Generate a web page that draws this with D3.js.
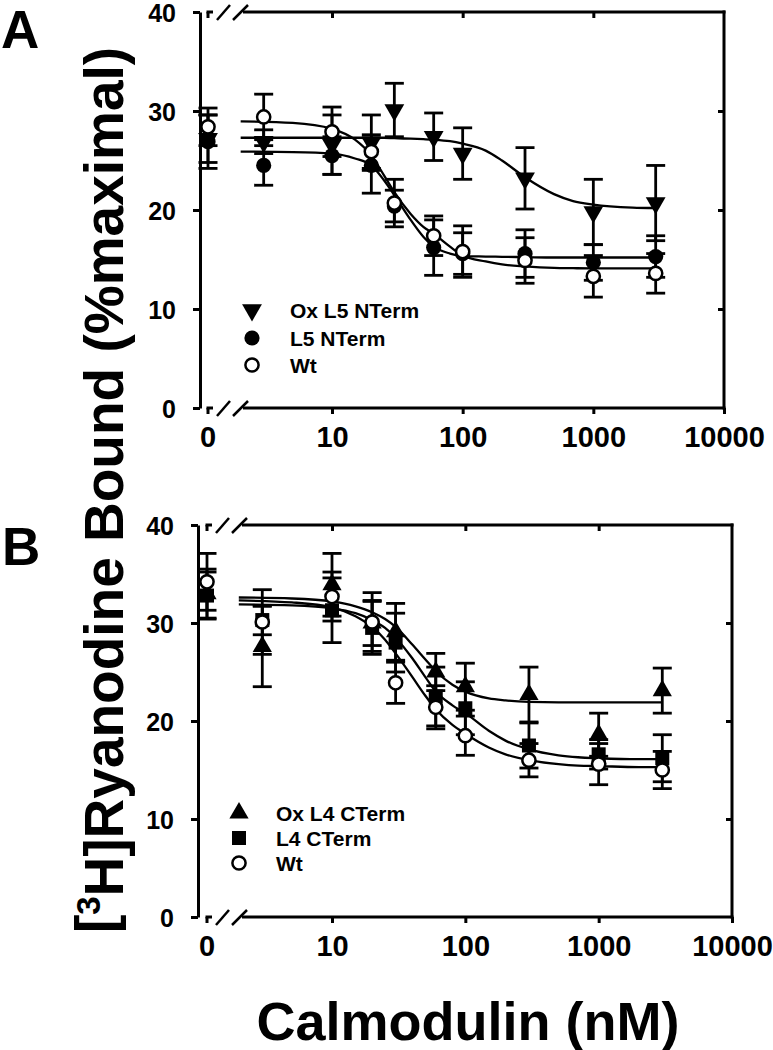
<!DOCTYPE html>
<html><head><meta charset="utf-8">
<script src="https://cdn.jsdelivr.net/npm/d3@7"></script>
<style>
body{margin:0;background:#fff;}
text{font-family:"Liberation Sans",Arial,Helvetica,sans-serif;font-weight:bold;fill:#000;}
</style></head>
<body><svg id="c" width="773" height="1050"></svg>
<script>
// ---------- data ----------
const conc = [0, 3, 10, 20, 30, 60, 100, 300, 1000, 3000];
const xTickVals = [10, 100, 1000, 10000];
const xTickLabels = ["10", "100", "1000", "10000"];
const yTickVals = [0, 10, 20, 30, 40];
const curveX = [2,5,10,15,20,25,30,40,50,60,80,100,150,200,300,500,700,1000,2000,3000];

// Panel A
const aOxMean   = [27.2, 26.9, 26.6, 26.8, 30.1, 27.4, 25.7, 23.2, 19.8, 20.7];
const aOxErr    = [2.4, 1.2, 3.0, 2.8, 2.7, 2.4, 2.6, 3.1, 3.3, 3.8];
const aL5Mean   = [26.9, 24.5, 25.5, 24.5, 20.4, 16.2, 15.6, 15.6, 14.7, 15.3];
const aL5Err    = [2.7, 2.0, 1.9, 2.8, 1.6, 2.8, 2.1, 2.4, 1.8, 2.1];
const aWtMean   = [28.4, 29.4, 27.9, 25.9, 20.7, 17.4, 15.8, 14.9, 13.3, 13.6];
const aWtErr    = [1.9, 2.3, 2.5, 1.7, 2.4, 2.0, 2.6, 2.3, 2.1, 2.0];
const aOxCurve  = [27.3,27.3,27.3,27.3,27.3,27.3,27.25,27.2,27.15,27.1,26.95,26.7,26.0,25.0,23.3,21.6,20.9,20.55,20.25,20.2];
const aL5Curve  = [25.9,25.85,25.7,25.2,24.5,23.0,21.5,19.0,17.3,16.3,15.6,15.35,15.3,15.27,15.24,15.2,15.2,15.2,15.2,15.2];
const aWtCurve  = [28.95,28.8,28.2,27.1,25.5,23.5,21.8,19.6,18.3,17.6,16.3,15.4,14.8,14.5,14.3,14.15,14.12,14.1,14.1,14.1];
const aLegend   = ["Ox L5 NTerm", "L5 NTerm", "Wt"];

// Panel B
const bOxMean   = [33.0, 27.6, 33.9, 30.0, 29.1, 25.0, 23.5, 22.7, 18.6, 23.1];
const bOxErr    = [2.5, 4.1, 3.2, 2.3, 2.9, 1.9, 2.4, 2.8, 2.2, 2.3];
const bL4Mean   = [32.8, 30.3, 31.3, 29.5, 28.0, 22.5, 21.3, 17.5, 16.6, 16.2];
const bL4Err    = [2.4, 1.5, 3.3, 2.7, 3.0, 3.0, 2.7, 2.3, 1.5, 2.4];
const bWtMean   = [34.2, 30.1, 32.7, 30.1, 23.9, 21.4, 18.5, 16.0, 15.6, 15.0];
const bWtErr    = [2.9, 3.3, 2.5, 3.0, 2.1, 2.2, 2.0, 1.7, 2.1, 1.9];
const bOxCurve  = [32.6,32.5,32.2,31.7,31.1,30.4,29.6,27.8,26.3,25.1,23.7,23.0,22.3,22.1,21.95,21.9,21.9,21.9,21.9,21.9];
const bL4Curve  = [31.9,31.8,31.5,31.0,30.3,29.5,28.5,26.4,24.5,23.0,21.6,20.8,19.0,18.0,17.1,16.5,16.3,16.2,16.1,16.1];
const bWtCurve  = [32.3,32.1,31.6,30.7,29.6,28.3,26.9,24.5,22.6,21.2,19.6,18.7,17.3,16.6,16.0,15.6,15.45,15.4,15.3,15.3];
const bLegend   = ["Ox L4 CTerm", "L4 CTerm", "Wt"];

// ---------- drawing ----------
const svg = d3.select("#c");

function panel(cfg) {
  const g = svg.append("g");
  const y = d3.scaleLinear().domain([0, 40]).range([cfg.bottom, cfg.top]);
  const xl = d3.scaleLog().domain([10, 10000]).range([cfg.x10, cfg.right]);
  const xp = v => v === 0 ? cfg.x0 : xl(v);
  const AX = 3;

  // left axis
  const left = d3.axisLeft(y).tickValues(yTickVals).tickSize(7).tickPadding(17).tickSizeOuter(0);
  const lg = g.append("g").attr("transform", `translate(${cfg.left},0)`).call(left);
  lg.select(".domain").attr("stroke-width", AX);
  lg.selectAll(".tick line").attr("stroke-width", AX);
  lg.selectAll(".tick text").style("font-size", "25px").attr("dy", "0.36em");

  // right axis (inner ticks)
  const right = d3.axisRight(y).tickValues([10, 20, 30]).tickSize(-6).tickFormat("").tickSizeOuter(0);
  const rg = g.append("g").attr("transform", `translate(${cfg.right},0)`).call(right);
  rg.select(".domain").remove();
  rg.selectAll(".tick line").attr("stroke-width", AX);
  g.append("line").attr("x1", cfg.right).attr("x2", cfg.right).attr("y1", cfg.top - 1.5).attr("y2", cfg.bottom + 1.5)
    .attr("stroke", "#000").attr("stroke-width", AX);

  // bottom axis
  const bottom = d3.axisBottom(xl).tickValues(xTickVals).tickFormat((d, i) => xTickLabels[i]).tickSize(6).tickPadding(12).tickSizeOuter(0);
  const bg = g.append("g").attr("transform", `translate(0,${cfg.bottom})`).call(bottom);
  bg.select(".domain").remove();
  bg.selectAll(".tick line").attr("stroke-width", AX);
  bg.selectAll(".tick text").style("font-size", "29px");
  // zero tick
  bg.append("line").attr("x1", cfg.x0).attr("x2", cfg.x0).attr("y1", 0).attr("y2", 6).attr("stroke", "#000").attr("stroke-width", AX);
  bg.append("text").attr("x", cfg.x0).attr("y", 18).attr("dy", "0.71em").attr("text-anchor", "middle").style("font-size", "29px").text("0");

  // top axis
  const top = d3.axisBottom(xl).tickValues([10, 100, 1000]).tickSize(6).tickFormat("").tickSizeOuter(0);
  const tg = g.append("g").attr("transform", `translate(0,${cfg.top})`).call(top);
  tg.select(".domain").remove();
  tg.selectAll(".tick line").attr("stroke-width", AX);
  tg.append("line").attr("x1", cfg.x0).attr("x2", cfg.x0).attr("y1", 0).attr("y2", 6).attr("stroke", "#000").attr("stroke-width", AX);

  // axis lines with break
  [cfg.bottom, cfg.top].forEach(yy => {
    g.append("line").attr("x1", cfg.x0 - 1.5).attr("x2", cfg.x0 + 5).attr("y1", yy).attr("y2", yy).attr("stroke", "#000").attr("stroke-width", AX);
    g.append("line").attr("x1", cfg.x0 + 35).attr("x2", cfg.right + 1.5).attr("y1", yy).attr("y2", yy).attr("stroke", "#000").attr("stroke-width", AX);
    g.append("line").attr("x1", cfg.x0 + 9).attr("y1", yy + 8).attr("x2", cfg.x0 + 22).attr("y2", yy - 7).attr("stroke", "#000").attr("stroke-width", 2.5);
    g.append("line").attr("x1", cfg.x0 + 25).attr("y1", yy + 8).attr("x2", cfg.x0 + 40).attr("y2", yy - 7).attr("stroke", "#000").attr("stroke-width", 2.5);
  });

  // error bars
  const errG = g.append("g").attr("stroke", "#000").attr("stroke-width", 2.8);
  cfg.series.forEach(s => {
    conc.forEach((c, i) => {
      const cx = xp(c), m = s.mean[i], e = s.err[i];
      const y1 = y(m + e), y2 = y(m - e);
      errG.append("line").attr("x1", cx).attr("x2", cx).attr("y1", y1).attr("y2", y2);
      errG.append("line").attr("x1", cx - 9.5).attr("x2", cx + 9.5).attr("y1", y1).attr("y2", y1);
      errG.append("line").attr("x1", cx - 9.5).attr("x2", cx + 9.5).attr("y1", y2).attr("y2", y2);
    });
  });

  // curves
  const line = d3.line().x((d, i) => xl(curveX[i])).y(d => y(d)).curve(d3.curveMonotoneX);
  cfg.series.forEach(s => {
    g.append("path").datum(s.curve).attr("d", line).attr("fill", "none").attr("stroke", "#000").attr("stroke-width", 2.3);
  });

  // markers
  function marker(sel, type) {
    if (type === "tridown") sel.append("path").attr("d", d3.symbol(d3.symbolTriangle, 170)()).attr("transform", "rotate(180)").attr("fill", "#000");
    else if (type === "triup") sel.append("path").attr("d", d3.symbol(d3.symbolTriangle, 160)()).attr("fill", "#000");
    else if (type === "dot") sel.append("circle").attr("r", 7.6).attr("fill", "#000");
    else if (type === "square") sel.append("rect").attr("x", -7).attr("y", -7).attr("width", 14).attr("height", 14).attr("fill", "#000");
    else if (type === "open") sel.append("circle").attr("r", 6.6).attr("fill", "#fff").attr("stroke", "#000").attr("stroke-width", 2.5);
  }
  cfg.series.forEach(s => {
    conc.forEach((c, i) => {
      const mg = g.append("g").attr("transform", `translate(${xp(c)},${y(s.mean[i])})`);
      marker(mg, s.type);
    });
  });

  // legend
  cfg.series.forEach((s, i) => {
    const ly = cfg.legY[i];
    const mg = g.append("g").attr("transform", `translate(${cfg.legX},${ly})`);
    marker(mg, s.type);
    g.append("text").attr("x", cfg.legTX).attr("y", ly).attr("dy", "0.36em").style("font-size", "21px").text(cfg.legend[i]);
  });

  // panel letter
  g.append("text").attr("x", cfg.letterX).attr("y", cfg.letterY).style("font-size", "53px").text(cfg.letter);
}

panel({
  left: 200, right: 724, top: 12, bottom: 408, x0: 208, x10: 332,
  series: [
    { type: "tridown", mean: aOxMean, err: aOxErr, curve: aOxCurve },
    { type: "dot", mean: aL5Mean, err: aL5Err, curve: aL5Curve },
    { type: "open", mean: aWtMean, err: aWtErr, curve: aWtCurve }
  ],
  legend: aLegend, legX: 252, legTX: 290, legY: [310, 338, 365],
  letter: "A", letterX: 1, letterY: 48
});

panel({
  left: 198, right: 732, top: 525, bottom: 917, x0: 207, x10: 332,
  series: [
    { type: "triup", mean: bOxMean, err: bOxErr, curve: bOxCurve },
    { type: "square", mean: bL4Mean, err: bL4Err, curve: bL4Curve },
    { type: "open", mean: bWtMean, err: bWtErr, curve: bWtCurve }
  ],
  legend: bLegend, legX: 239, legTX: 276, legY: [813, 838, 863],
  letter: "B", letterX: 2, letterY: 565
});

// axis titles
const yt = svg.append("text").attr("transform", "translate(114,490) rotate(-90)").attr("text-anchor", "middle").style("font-size", "55px");
yt.append("tspan").text("[");
yt.append("tspan").attr("dy", "-0.42em").style("font-size", "33px").text("3");
yt.append("tspan").attr("dy", "0.42em").text("H]Ryanodine Bound (%maximal)");

svg.append("text").attr("x", 468).attr("y", 1040).attr("text-anchor", "middle").style("font-size", "54px").text("Calmodulin (nM)");
</script></body></html>
